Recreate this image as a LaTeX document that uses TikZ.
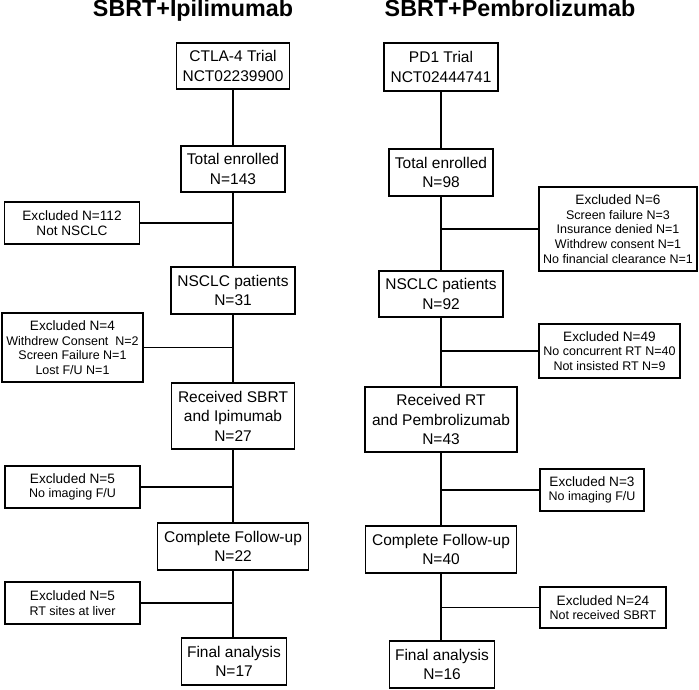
\documentclass[tikz,border=0pt]{standalone}
\usepackage{fontspec}
\setmainfont{Liberation Sans}
\begin{document}
\begin{tikzpicture}[x=1pt,y=-1pt,
  box/.style={draw, line width=1.5pt, inner sep=0pt, align=center,
    font=\fontsize{15.5}{19.5}\selectfont},
  exbox/.style={draw, line width=1.5pt, inner sep=0pt, align=center,
    font=\fontsize{12.5}{14.6}\selectfont},
  link/.style={line width=1.5pt},
  ttl/.style={anchor=base, inner sep=0pt, font=\fontsize{23.3}{28}\selectfont\bfseries}]
\useasboundingbox (0,0) rectangle (699,690);
\newcommand{\exhead}[1]{{\fontsize{13.6}{15}\selectfont #1}}
% titles
\node[ttl] (t1) at (193,17) {SBRT+Ipilimumab};
\node[ttl] (t2) at (510,17) {SBRT+Pembrolizumab};
% left column
\node[box, minimum width=113, minimum height=46] (l1) at (233,66) {CTLA-4 Trial\\NCT02239900};
\node[box, minimum width=104, minimum height=46] (l2) at (233,169) {Total enrolled\\N=143};
\node[exbox, minimum width=135, minimum height=42] (le1) at (72,223) {\exhead{Excluded N=112}\\\exhead{Not NSCLC}};
\node[box, minimum width=124, minimum height=47] (l3) at (233,290.5) {NSCLC patients\\N=31};
\node[exbox, minimum width=141, minimum height=69] (le2) at (72.5,347.5) {\exhead{Excluded N=4}\\Withdrew Consent~~N=2\\Screen Failure N=1\\Lost F/U N=1};
\node[box, minimum width=123, minimum height=66] (l4) at (233,416) {Received SBRT\\and Ipimumab\\N=27};
\node[exbox, minimum width=135, minimum height=42] (le3) at (72.5,487) {\exhead{Excluded N=5}\\No imaging F/U};
\node[box, minimum width=151, minimum height=47] (l5) at (233,546.5) {Complete Follow-up\\N=22};
\node[exbox, minimum width=135, minimum height=42] (le4) at (72.5,603) {\exhead{Excluded N=5}\\RT sites at liver};
\node[box, minimum width=105, minimum height=47] (l6) at (234,661.5) {Final analysis\\N=17};
% right column
\node[box, minimum width=114, minimum height=48] (r1) at (441,67) {PD1 Trial\\NCT02444741};
\node[box, minimum width=104, minimum height=47] (r2) at (441,172.5) {Total enrolled\\N=98};
\node[exbox, minimum width=158, minimum height=84] (re1) at (618,229) {\exhead{Excluded N=6}\\Screen failure N=3\\Insurance denied N=1\\Withdrew consent N=1\\No financial clearance N=1};
\node[box, minimum width=124, minimum height=46] (r3) at (441,294) {NSCLC patients\\N=92};
\node[exbox, minimum width=141, minimum height=54] (re2) at (609.5,351) {\exhead{Excluded N=49}\\No concurrent RT N=40\\Not insisted RT N=9};
\node[box, minimum width=152, minimum height=65] (r4) at (441,419.5) {Received RT\\and Pembrolizumab\\N=43};
\node[exbox, minimum width=104, minimum height=42] (re3) at (592,490) {\exhead{Excluded N=3}\\No imaging F/U};
\node[box, minimum width=151, minimum height=47] (r5) at (441,549.5) {Complete Follow-up\\N=40};
\node[exbox, minimum width=126, minimum height=41] (re4) at (603,607.5) {\exhead{Excluded N=24}\\Not received SBRT};
\node[box, minimum width=105, minimum height=47] (r6) at (442,664.5) {Final analysis\\N=16};
% left trunk
\draw[link] (l1.south) -- (l1.south |- l2.north);
\draw[link] (l2.south) -- (l2.south |- l3.north);
\draw[link] (l3.south) -- (l3.south |- l4.north);
\draw[link] (l4.south) -- (l4.south |- l5.north);
\draw[link] (l5.south) -- (l5.south |- l6.north);
\draw[link] (le1.east) -- (le1.east -| l2.south);
\draw[link] (le2.east) -- (le2.east -| l3.south);
\draw[link] (le3.east) -- (le3.east -| l4.south);
\draw[link] (le4.east) -- (le4.east -| l5.south);
% right trunk
\draw[link] (r1.south) -- (r1.south |- r2.north);
\draw[link] (r2.south) -- (r2.south |- r3.north);
\draw[link] (r3.south) -- (r3.south |- r4.north);
\draw[link] (r4.south) -- (r4.south |- r5.north);
\draw[link] (r5.south) -- (r5.south |- r6.north);
\draw[link] (re1.west) -- (re1.west -| r2.south);
\draw[link] (re2.west) -- (re2.west -| r3.south);
\draw[link] (re3.west) -- (re3.west -| r4.south);
\draw[link] (re4.west) -- (re4.west -| r5.south);
\end{tikzpicture}
\end{document}
